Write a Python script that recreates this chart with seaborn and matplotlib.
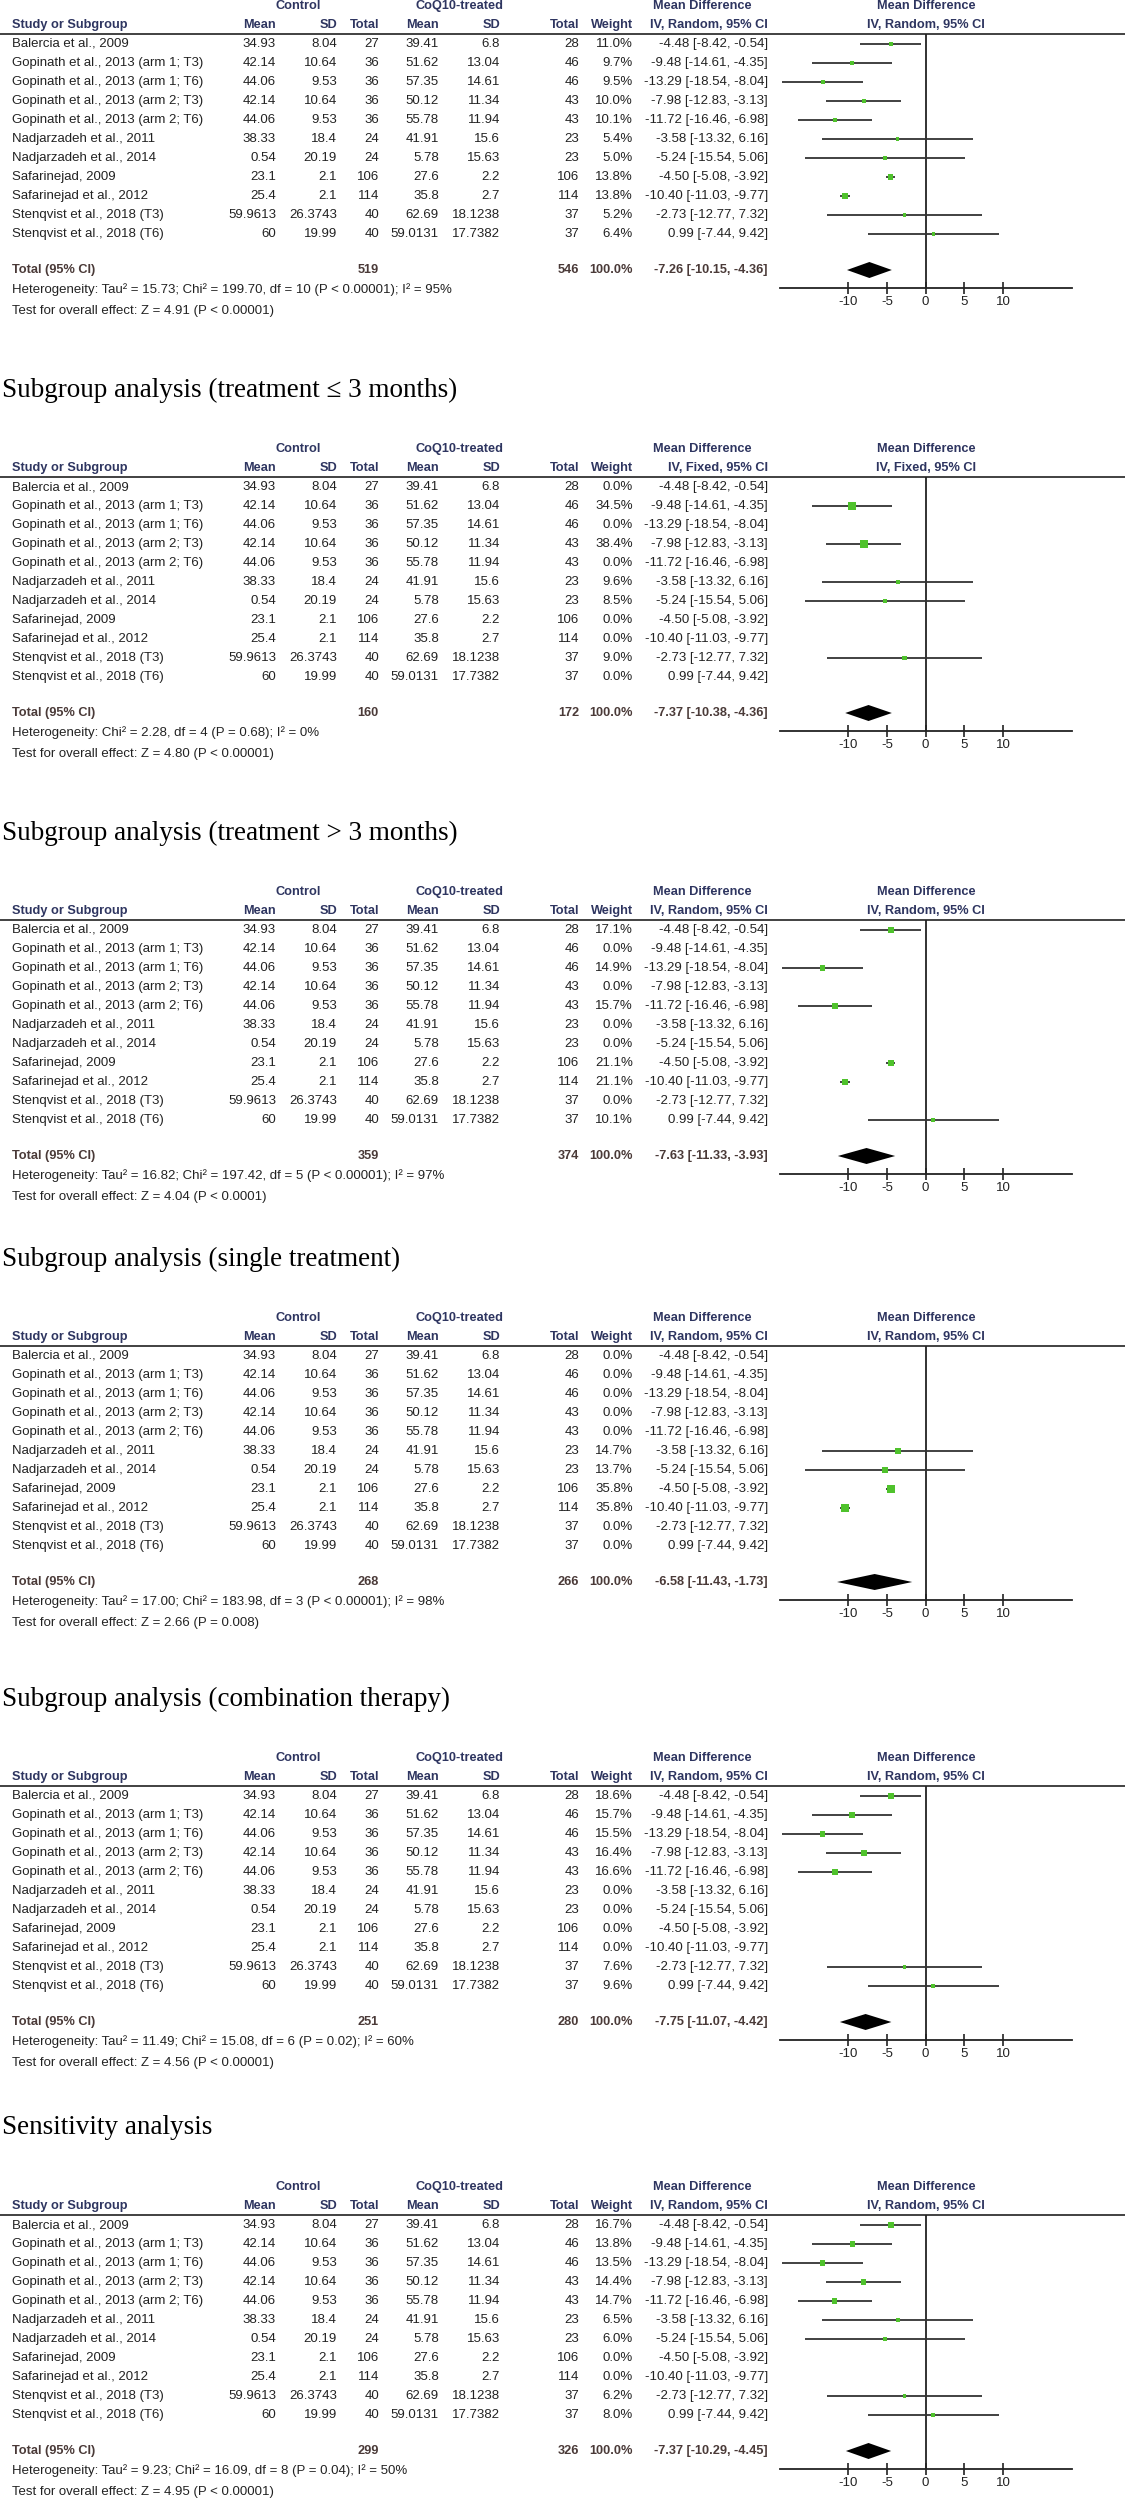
import pandas as pd
import matplotlib
matplotlib.use("Agg")
import matplotlib.pyplot as plt
import seaborn as sns

# study-level data (same in every panel)
studies = ["Balercia et al., 2009", "Gopinath et al., 2013 (arm 1; T3)", "Gopinath et al., 2013 (arm 1; T6)",
           "Gopinath et al., 2013 (arm 2; T3)", "Gopinath et al., 2013 (arm 2; T6)", "Nadjarzadeh et al., 2011",
           "Nadjarzadeh et al., 2014", "Safarinejad, 2009", "Safarinejad et al., 2012",
           "Stenqvist et al., 2018 (T3)", "Stenqvist et al., 2018 (T6)"]
ctrl_mean = ["34.93", "42.14", "44.06", "42.14", "44.06", "38.33", "0.54", "23.1", "25.4", "59.9613", "60"]
ctrl_sd = ["8.04", "10.64", "9.53", "10.64", "9.53", "18.4", "20.19", "2.1", "2.1", "26.3743", "19.99"]
ctrl_n = [27, 36, 36, 36, 36, 24, 24, 106, 114, 40, 40]
trt_mean = ["39.41", "51.62", "57.35", "50.12", "55.78", "41.91", "5.78", "27.6", "35.8", "62.69", "59.0131"]
trt_sd = ["6.8", "13.04", "14.61", "11.34", "11.94", "15.6", "15.63", "2.2", "2.7", "18.1238", "17.7382"]
trt_n = [28, 46, 46, 43, 43, 23, 23, 106, 114, 37, 37]
md = [-4.48, -9.48, -13.29, -7.98, -11.72, -3.58, -5.24, -4.50, -10.40, -2.73, 0.99]
ci_lo = [-8.42, -14.61, -18.54, -12.83, -16.46, -13.32, -15.54, -5.08, -11.03, -12.77, -7.44]
ci_hi = [-0.54, -4.35, -8.04, -3.13, -6.98, 6.16, 5.06, -3.92, -9.77, 7.32, 9.42]

# panel-level data
titles = ["", "Subgroup analysis (treatment \u2264 3 months)", "Subgroup analysis (treatment > 3 months)",
          "Subgroup analysis (single treatment)", "Subgroup analysis (combination therapy)", "Sensitivity analysis"]
methods = ["Random", "Fixed", "Random", "Random", "Random", "Random"]
weights_all = [11.0, 9.7, 9.5, 10.0, 10.1, 5.4, 5.0, 13.8, 13.8, 5.2, 6.4]
weights_le3 = [0.0, 34.5, 0.0, 38.4, 0.0, 9.6, 8.5, 0.0, 0.0, 9.0, 0.0]
weights_gt3 = [17.1, 0.0, 14.9, 0.0, 15.7, 0.0, 0.0, 21.1, 21.1, 0.0, 10.1]
weights_single = [0.0, 0.0, 0.0, 0.0, 0.0, 14.7, 13.7, 35.8, 35.8, 0.0, 0.0]
weights_combo = [18.6, 15.7, 15.5, 16.4, 16.6, 0.0, 0.0, 0.0, 0.0, 7.6, 9.6]
weights_sens = [16.7, 13.8, 13.5, 14.4, 14.7, 6.5, 6.0, 0.0, 0.0, 6.2, 8.0]
panel_weights = [weights_all, weights_le3, weights_gt3, weights_single, weights_combo, weights_sens]
total_ctrl = [519, 160, 359, 268, 251, 299]
total_trt = [546, 172, 374, 266, 280, 326]
pooled_md = [-7.26, -7.37, -7.63, -6.58, -7.75, -7.37]
pooled_lo = [-10.15, -10.38, -11.33, -11.43, -11.07, -10.29]
pooled_hi = [-4.36, -4.36, -3.93, -1.73, -4.42, -4.45]
heterogeneity = [
    "Heterogeneity: Tau\u00b2 = 15.73; Chi\u00b2 = 199.70, df = 10 (P < 0.00001); I\u00b2 = 95%",
    "Heterogeneity: Chi\u00b2 = 2.28, df = 4 (P = 0.68); I\u00b2 = 0%",
    "Heterogeneity: Tau\u00b2 = 16.82; Chi\u00b2 = 197.42, df = 5 (P < 0.00001); I\u00b2 = 97%",
    "Heterogeneity: Tau\u00b2 = 17.00; Chi\u00b2 = 183.98, df = 3 (P < 0.00001); I\u00b2 = 98%",
    "Heterogeneity: Tau\u00b2 = 11.49; Chi\u00b2 = 15.08, df = 6 (P = 0.02); I\u00b2 = 60%",
    "Heterogeneity: Tau\u00b2 = 9.23; Chi\u00b2 = 16.09, df = 8 (P = 0.04); I\u00b2 = 50%",
]
overall_effect = [
    "Test for overall effect: Z = 4.91 (P < 0.00001)",
    "Test for overall effect: Z = 4.80 (P < 0.00001)",
    "Test for overall effect: Z = 4.04 (P < 0.0001)",
    "Test for overall effect: Z = 2.66 (P = 0.008)",
    "Test for overall effect: Z = 4.56 (P < 0.00001)",
    "Test for overall effect: Z = 4.95 (P < 0.00001)",
]
xticks = [-10, -5, 0, 5, 10]

sns.set_theme(style="white")
plt.rcParams["font.family"] = ["Liberation Sans", "DejaVu Sans"]

W, H = 1125, 2500
offsets = [0, 443, 886, 1312, 1752, 2181]
X0, X1 = 780, 1072
GREEN = "#4fc22c"
TXT = "#222222"
HDR = "#2e3560"
TOT = "#4a3a38"
FS = 9.5

fig = plt.figure(figsize=(W / 100, H / 100), dpi=100)
canvas = fig.add_axes([0, 0, 1, 1])
canvas.set_xlim(0, W)
canvas.set_ylim(H, 0)
canvas.axis("off")


def rect(x0, y0, x1, y1):
    return [x0 / W, 1 - y1 / H, (x1 - x0) / W, (y1 - y0) / H]


for p, off in enumerate(offsets):
    if titles[p]:
        canvas.text(2, off - 53, titles[p], fontsize=19.5, va="center", color="black",
                    family=["Liberation Serif", "DejaVu Serif"])

    hd = dict(fontsize=9.2, fontweight="bold", color=HDR, va="center")
    canvas.text(298, off + 6, "Control", ha="center", **hd)
    canvas.text(460, off + 6, "CoQ10-treated", ha="center", **hd)
    canvas.text(702, off + 6, "Mean Difference", ha="center", **hd)
    canvas.text(926, off + 6, "Mean Difference", ha="center", **hd)
    canvas.text(12, off + 25, "Study or Subgroup", ha="left", **hd)
    for xr, lab in [(276, "Mean"), (337, "SD"), (379, "Total"), (439, "Mean"), (500, "SD"),
                    (579, "Total"), (633, "Weight"), (768, f"IV, {methods[p]}, 95% CI")]:
        canvas.text(xr, off + 25, lab, ha="right", **hd)
    canvas.text(926, off + 25, f"IV, {methods[p]}, 95% CI", ha="center", **hd)
    canvas.plot([0, W], [off + 34, off + 34], color="#333333", lw=1.3)

    w = panel_weights[p]
    rows = [44 + 19 * i for i in range(len(studies))]
    tx = dict(fontsize=FS, color=TXT, va="center")
    for i, name in enumerate(studies):
        y = off + rows[i]
        canvas.text(12, y, name, ha="left", **tx)
        cells = [(276, ctrl_mean[i]), (337, ctrl_sd[i]), (379, str(ctrl_n[i])), (439, trt_mean[i]),
                 (500, trt_sd[i]), (579, str(trt_n[i])), (633, f"{w[i]:.1f}%"),
                 (768, f"{md[i]:.2f} [{ci_lo[i]:.2f}, {ci_hi[i]:.2f}]")]
        for xr, s in cells:
            canvas.text(xr, y, s, ha="right", **tx)

    tt = dict(fontsize=9.2, fontweight="bold", color=TOT, va="center")
    canvas.text(12, off + 270, "Total (95% CI)", ha="left", **tt)
    canvas.text(379, off + 270, str(total_ctrl[p]), ha="right", **tt)
    canvas.text(579, off + 270, str(total_trt[p]), ha="right", **tt)
    canvas.text(633, off + 270, "100.0%", ha="right", **tt)
    canvas.text(768, off + 270, f"{pooled_md[p]:.2f} [{pooled_lo[p]:.2f}, {pooled_hi[p]:.2f}]", ha="right", **tt)
    canvas.text(12, off + 290, heterogeneity[p], ha="left", **tx)
    canvas.text(12, off + 311, overall_effect[p], ha="left", **tx)

    # forest plot
    ax = fig.add_axes(rect(X0, off + 34, X1, off + 288))
    ax.set_xlim(-18.8, 18.9)
    ax.set_ylim(288, 34)
    df = pd.DataFrame({"md": md, "lo": ci_lo, "hi": ci_hi, "w": w, "row": rows})
    df = df[df["w"] > 0]
    ax.hlines(df["row"], df["lo"], df["hi"], color="#333333", lw=1.3, zorder=2)
    sns.scatterplot(data=df, x="md", y="row", size="w", sizes=(0, 40), size_norm=(0, 40),
                    marker="s", color=GREEN, edgecolor="none", legend=False, ax=ax, zorder=3)
    ax.fill([pooled_lo[p], pooled_md[p], pooled_hi[p], pooled_md[p]], [270, 262, 270, 278],
            color="black", lw=0, zorder=3)
    ax.axvline(0, color="#222222", lw=1.3, zorder=1)
    for s in ["left", "right", "top"]:
        ax.spines[s].set_visible(False)
    ax.spines["bottom"].set_color("#222222")
    ax.spines["bottom"].set_linewidth(1.3)
    ax.set_xticks(xticks)
    ax.set_xticklabels([str(t) for t in xticks])
    ax.set_yticks([])
    ax.tick_params(axis="x", direction="inout", length=9, width=1.2, labelsize=FS, pad=1,
                   colors="#222222", bottom=True)
    ax.set_xlabel("")
    ax.set_ylabel("")
    ax.patch.set_alpha(0)

fig.savefig("out.png", dpi=100)
